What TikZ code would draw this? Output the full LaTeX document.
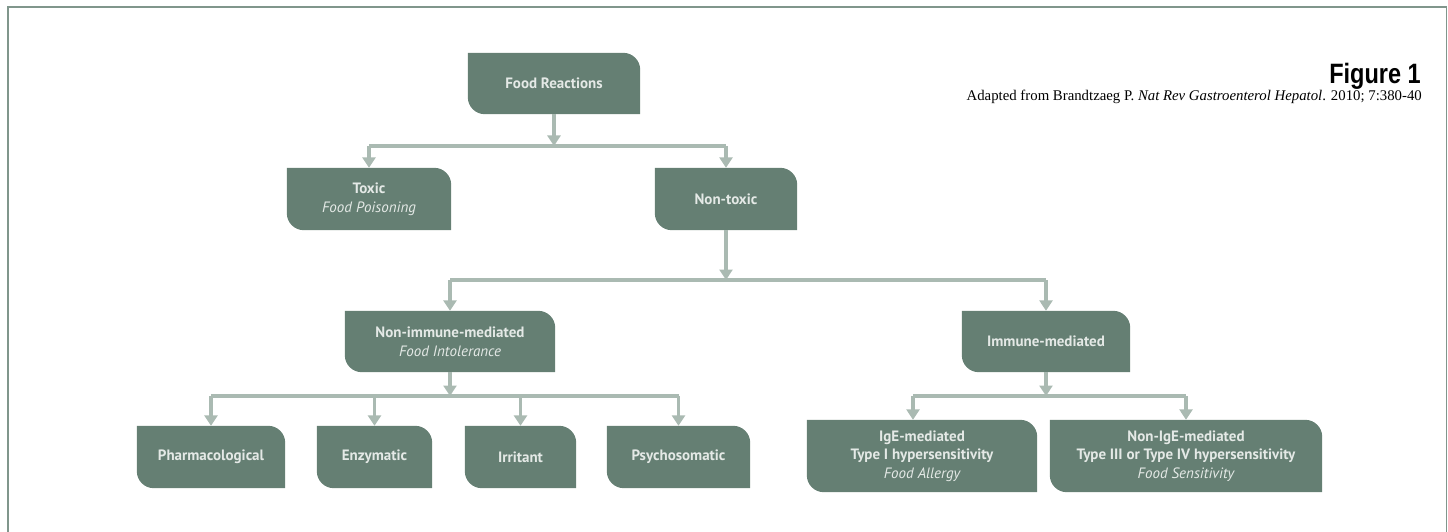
\documentclass[tikz,border=0pt]{standalone}
\usepackage{fontspec}
\setmainfont{PT Sans}
\newfontfamily\capfont{Liberation Serif}
\newfontfamily\figfont[FakeStretch=0.84]{Liberation Sans}
\usetikzlibrary{arrows.meta,backgrounds,calc}
\definecolor{boxc}{RGB}{101,127,115}
\definecolor{linec}{RGB}{170,186,178}
\definecolor{framec}{RGB}{128,150,140}
\definecolor{txtc}{RGB}{228,233,230}
\newcommand\mybox[1]{\fill[boxc] (#1.north west) -- ([xshift=-17pt]#1.north east) .. controls ([xshift=-7.6pt]#1.north east) and ([yshift=-7.6pt]#1.north east) .. ([yshift=-17pt]#1.north east) -- (#1.south east) -- ([xshift=17pt]#1.south west) .. controls ([xshift=7.6pt]#1.south west) and ([yshift=7.6pt]#1.south west) .. ([yshift=17pt]#1.south west) -- cycle;}
\begin{document}
\begin{tikzpicture}[x=1pt,y=-1pt,
  bx/.style={rectangle,inner sep=0pt,align=center,text=txtc,font=\fontsize{15}{19}\selectfont\bfseries},
  conn/.style={draw=linec,line width=3.2pt},
  arr/.style={conn,-{Triangle[width=13pt,length=10.5pt]}},
  frm/.style={draw=framec,line width=1.4pt}]
\useasboundingbox (0,0) rectangle (1448,532);
\draw[frm] (8,540) -- (8,7) -- (1446.5,7) -- (1446.5,540);
% nodes
\node[bx,minimum width=172pt,minimum height=61pt] (f) at (554,83.5) {Food Reactions};
\node[bx,minimum width=164pt,minimum height=62pt] (t) at (369,199) {Toxic\\{\mdseries\itshape Food Poisoning}};
\node[bx,minimum width=142pt,minimum height=62pt] (nt) at (726,199) {Non-toxic};
\node[bx,minimum width=210pt,minimum height=61pt] (ni) at (450,341.5) {Non-immune-mediated\\{\mdseries\itshape Food Intolerance}};
\node[bx,minimum width=168pt,minimum height=61pt] (im) at (1046,341.5) {Immune-mediated};
\node[bx,minimum width=148pt,minimum height=62pt] (ph) at (211,457) {Pharmacological};
\node[bx,minimum width=115pt,minimum height=62pt] (en) at (374.5,457) {Enzymatic};
\node[bx,minimum width=111pt,minimum height=62pt] (ir) at (520.5,457) {Irritant};
\node[bx,minimum width=143pt,minimum height=62pt] (ps) at (678.5,457) {Psychosomatic};
\node[bx,minimum width=230pt,minimum height=72pt,font=\fontsize{15}{18.5}\selectfont\bfseries] (ig) at (922,456) {IgE-mediated\\Type I hypersensitivity\\{\mdseries\itshape Food Allergy}};
\node[bx,minimum width=272pt,minimum height=72pt,font=\fontsize{15}{18.5}\selectfont\bfseries] (nig) at (1186,456) {Non-IgE-mediated\\Type III or Type IV hypersensitivity\\{\mdseries\itshape Food Sensitivity}};
\begin{scope}[on background layer]
\mybox{f}\mybox{t}\mybox{nt}\mybox{ni}\mybox{im}\mybox{ph}\mybox{en}\mybox{ir}\mybox{ps}\mybox{ig}\mybox{nig}
\end{scope}
% junctions
\coordinate (j1) at (0,146);
\coordinate (j2) at (0,280);
\coordinate (j3) at (0,396);
\coordinate (igt) at ([xshift=-9pt]ig.north);
% level 1
\draw[arr] (f.south) -- (f.south |- j1);
\draw[conn] (t.north |- j1) -- (nt.north |- j1);
\draw[arr] (t.north |- j1) -- (t.north);
\draw[arr] (nt.north |- j1) -- (nt.north);
% level 2
\draw[arr] (nt.south) -- (nt.south |- j2);
\draw[conn] (ni.north |- j2) -- (im.north |- j2);
\draw[arr] (ni.north |- j2) -- (ni.north);
\draw[arr] (im.north |- j2) -- (im.north);
% level 3 left
\draw[arr] (ni.south) -- (ni.south |- j3);
\draw[conn] (ph.north |- j3) -- (ps.north |- j3);
\draw[arr] (ph.north |- j3) -- (ph.north);
\draw[arr] (en.north |- j3) -- (en.north);
\draw[arr] (ir.north |- j3) -- (ir.north);
\draw[arr] (ps.north |- j3) -- (ps.north);
% level 3 right
\draw[arr] (im.south) -- (im.south |- j3);
\draw[conn] (igt |- j3) -- (nig.north |- j3);
\draw[arr] (igt |- j3) -- (igt);
\draw[arr] (nig.north |- j3) -- (nig.north);
% caption
\node[anchor=base east,inner sep=0pt,font=\figfont\bfseries\fontsize{28}{28}\selectfont] (fig) at (1421,84) {Figure 1};
\node[anchor=base east,inner sep=0pt,font=\capfont\fontsize{14.8}{16}\selectfont] (cap) at (1422,101) {Adapted from Brandtzaeg P. \textit{Nat Rev Gastroenterol Hepatol}. 2010; 7:380-40};
\end{tikzpicture}
\end{document}
